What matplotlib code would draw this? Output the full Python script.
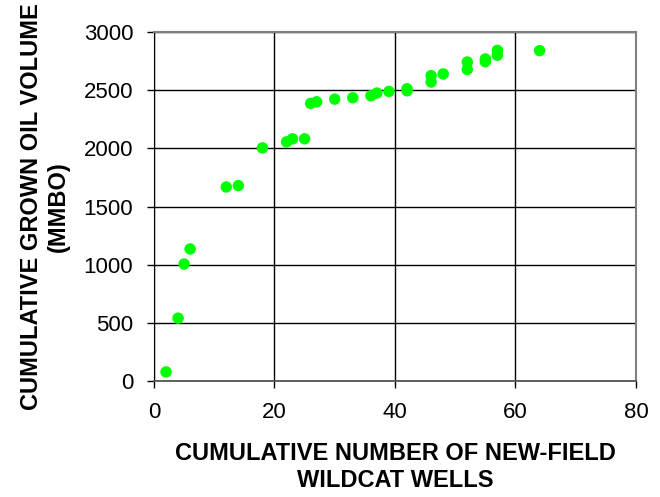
import numpy as np
import matplotlib
matplotlib.use("Agg")
import matplotlib.pyplot as plt

plt.rcParams['font.family'] = ['Liberation Sans', 'DejaVu Sans']

# cumulative new-field wildcat wells vs cumulative grown oil volume (MMBO)
wells = [2, 4, 5, 6, 12, 14, 18, 22, 23, 25, 26, 27, 30, 33, 36, 37, 39,
         42, 42, 46, 46, 48, 52, 52, 55, 55, 57, 57, 64]
volume = [78, 540, 1005, 1135, 1668, 1680, 2004, 2056, 2082, 2082, 2386,
          2400, 2423, 2435, 2452, 2475, 2489, 2495, 2512, 2570, 2625, 2640,
          2678, 2742, 2745, 2768, 2800, 2842, 2840]

xticks = [0, 20, 40, 60, 80]
yticks = [0, 500, 1000, 1500, 2000, 2500, 3000]

fig = plt.figure(figsize=(6.6, 4.97), dpi=100)
ax = fig.add_axes([0.2333, 0.2334, 0.7303, 0.7022])

ax.scatter(wells, volume, s=68, color='#00ff00', edgecolors='none', zorder=3)

ax.set_xlim(0, 80)
ax.set_ylim(0, 3000)
ax.set_xticks(xticks)
ax.set_yticks(yticks)
ax.grid(True, color='black', linewidth=1.0)
ax.set_axisbelow(True)

for side in ['top', 'right']:
    ax.spines[side].set_color('#808080')
    ax.spines[side].set_linewidth(1.5)
ax.spines['left'].set_color('black')
ax.spines['bottom'].set_color('#555555')
ax.spines['bottom'].set_linewidth(1.3)

ax.tick_params(axis='both', direction='out', length=5, width=1,
               labelsize=16, pad=10)

ax.set_xlabel("CUMULATIVE NUMBER OF NEW-FIELD\nWILDCAT WELLS",
              fontsize=17, fontweight='bold', labelpad=14, linespacing=1.2)
ax.set_ylabel("CUMULATIVE GROWN OIL VOLUME\n(MMBO)",
              fontsize=17, fontweight='bold', labelpad=10, linespacing=1.2)

fig.savefig("out.png", dpi=100)
